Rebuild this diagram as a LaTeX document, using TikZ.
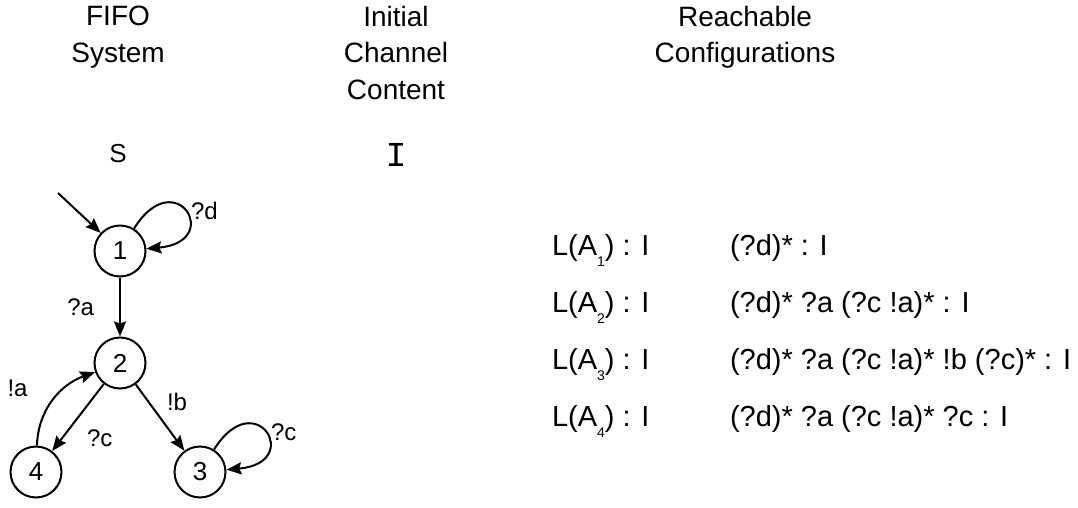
\documentclass[tikz,border=0pt]{standalone}
\usepackage{fontspec}
\setmainfont{Liberation Sans}
\newfontfamily\chanfont{Liberation Mono}
\usetikzlibrary{positioning, arrows.meta, automata}

\newcommand{\lsub}[1]{\raisebox{-11pt}{\fontsize{14}{14}\selectfont #1}}

\begin{document}
\begin{tikzpicture}[x=1pt, y=1pt, >={Stealth[length=15pt, width=12pt, inset=2pt]}, line width=2pt,
                    every state/.style={draw, circle, minimum size=51pt, inner sep=0pt, line width=2pt,
                                        font=\fontsize{26}{26}\selectfont},
                    lbl/.style={inner sep=0pt, font=\fontsize{24}{24}\selectfont},
                    head/.style={anchor=north, align=center, inner sep=0pt, font=\fontsize{28}{36.5}\selectfont},
                    row/.style={anchor=base west, inner sep=0pt, font=\fontsize{29}{29}\selectfont},
                    selfloop/.style={out=58, in=5, looseness=8.5}]

  \useasboundingbox (0,0) rectangle (1078,-508);

  \node[head] (sysHead)  at (118,-5) {FIFO\\System};
  \node[head] (chanHead) at (396,-5) {Initial\\Channel\\Content};
  \node[head] (confHead) at (745,-5) {Reachable\\Configurations};

  \node[lbl, font=\fontsize{26}{26}\selectfont] (sysName) at (118,-154) {S};
  \node[inner sep=0pt, font=\chanfont\fontsize{35}{35}\selectfont] (chanName) at (396,-155) {I};

  \node[state] (s1) at (120,-251) {1};
  \node[state] (s2) at (120,-363) {2};
  \node[state] (s4) at (36,-472)  {4};
  \node[state] (s3) at (200,-472) {3};

  \coordinate (init) at (58,-193);
  \draw[->] (init) -- (s1);

  \path[->] (s1) edge [selfloop]        node[lbl, right=5pt] {?d} (s1)
                 edge                   node[lbl, left=25pt] {?a} (s2)
            (s2) edge                   node[lbl, below right=11pt and 8pt] {?c} (s4)
                 edge                   node[lbl, above right=6pt and 6pt] {!b} (s3)
            (s4) edge [out=88, in=200]  node[lbl, above left=2pt and 25pt] {!a} (s2)
            (s3) edge [selfloop]        node[lbl, right=5pt] {?c} (s3);

  % languages of the states
  \node[row] (lang1) at (551,-255) {L(A\lsub{1}) : I};
  \node[row] (lang2) at (551,-312) {L(A\lsub{2}) : I};
  \node[row] (lang3) at (551,-369) {L(A\lsub{3}) : I};
  \node[row] (lang4) at (551,-426) {L(A\lsub{4}) : I};

  \node[row] (conf1) at (729,-255) {(?d)* : I};
  \node[row] (conf2) at (729,-312) {(?d)* ?a (?c !a)* : I};
  \node[row] (conf3) at (729,-369) {(?d)* ?a (?c !a)* !b (?c)* : I};
  \node[row] (conf4) at (729,-426) {(?d)* ?a (?c !a)* ?c : I};

\end{tikzpicture}
\end{document}
